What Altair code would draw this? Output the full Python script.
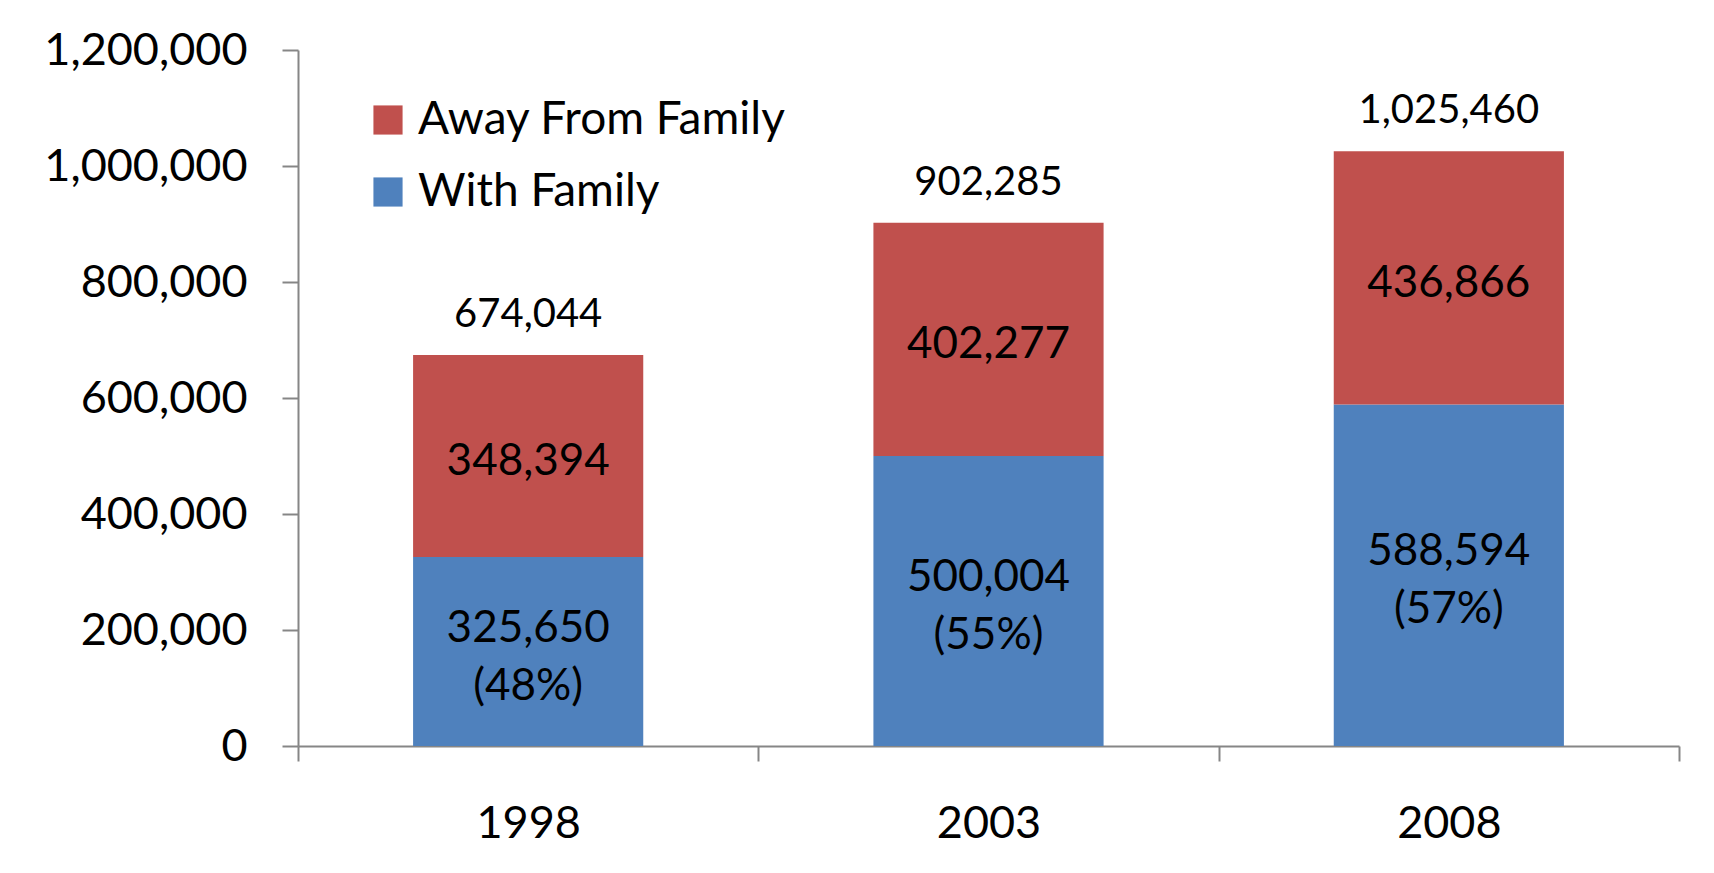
import altair as alt
import pandas as pd

years = ["1998", "2003", "2008"]
with_family = [325650, 500004, 588594]
away_family = [348394, 402277, 436866]
totals = [674044, 902285, 1025460]
with_pct = ["48%", "55%", "57%"]
series = ["Away From Family", "With Family"]
colors = ["#C0504D", "#4F81BD"]
y_ticks = [0, 200000, 400000, 600000, 800000, 1000000, 1200000]

FONT = "Lato"
AXIS_GRAY = "#868686"

rows = []
for i, yr in enumerate(years):
    rows.append({"year": yr, "series": "With Family", "value": with_family[i], "rank": 0,
                 "label": f"{with_family[i]:,}\n({with_pct[i]})"})
    rows.append({"year": yr, "series": "Away From Family", "value": away_family[i], "rank": 1,
                 "label": f"{away_family[i]:,}"})
df = pd.DataFrame(rows)
tot_df = pd.DataFrame({"year": years, "total": totals})

x_enc = alt.X("year:N", title=None,
              scale=alt.Scale(paddingInner=0, paddingOuter=0),
              axis=alt.Axis(labelFont=FONT, labelFontSize=45, labelColor="black", labelAngle=0,
                            tickBand="extent", tickSize=15, tickColor=AXIS_GRAY, tickWidth=2,
                            domainColor=AXIS_GRAY, domainWidth=2, labelPadding=40, grid=False))
y_scale = alt.Scale(domain=[0, 1200000], nice=False)

bars = alt.Chart(df).mark_bar(width=alt.RelativeBandSize(0.5)).encode(
    x=x_enc,
    y=alt.Y("value:Q", stack="zero", title=None, scale=y_scale,
            axis=alt.Axis(values=y_ticks, format=",d", labelFont=FONT, labelFontSize=45,
                          labelColor="black", labelLimit=0, tickSize=16, tickColor=AXIS_GRAY,
                          tickWidth=2, domainColor=AXIS_GRAY, domainWidth=2, labelPadding=35,
                          grid=False)),
    color=alt.Color("series:N", scale=alt.Scale(domain=series, range=colors),
                    legend=alt.Legend(title=None, orient="none", legendX=67, legendY=47,
                                      symbolType="square", symbolSize=850, symbolStrokeWidth=0,
                                      labelFont=FONT, labelFontSize=46, labelColor="black",
                                      labelLimit=0, rowPadding=26, labelOffset=7, padding=0)),
    order=alt.Order("rank:Q"),
)

stacked = alt.Chart(df).transform_stack(
    stack="value", groupby=["year"], as_=["v0", "v1"],
    sort=[alt.SortField("rank", order="ascending")]
).transform_calculate(
    mid="(datum.v0 + datum.v1) / 2"
)

away_labels = stacked.transform_filter(alt.datum.series == "Away From Family").mark_text(
    font=FONT, fontSize=44, color="black", baseline="middle", dy=6).encode(
    x="year:N",
    y=alt.Y("mid:Q", scale=y_scale),
    text="label:N",
)

with_labels = stacked.transform_filter(alt.datum.series == "With Family").mark_text(
    font=FONT, fontSize=44, color="black", lineBreak="\n", lineHeight=58,
    baseline="middle", dy=-23).encode(
    x="year:N",
    y=alt.Y("mid:Q", scale=y_scale),
    text="label:N",
)

tot_labels = alt.Chart(tot_df).mark_text(font=FONT, fontSize=40, color="black", dy=-40,
                                         baseline="middle").encode(
    x="year:N",
    y=alt.Y("total:Q", scale=y_scale),
    text=alt.Text("total:Q", format=",d"),
)

chart = alt.layer(bars, away_labels, with_labels, tot_labels).properties(
    width=1381, height=696,
    autosize=alt.AutoSizeParams(type="none"),
    padding={"left": 290, "top": 42, "right": 27, "bottom": 110},
    background="white",
).configure_view(strokeWidth=0)

chart.save("out.html", embed_options={"renderer": "svg", "actions": False})
